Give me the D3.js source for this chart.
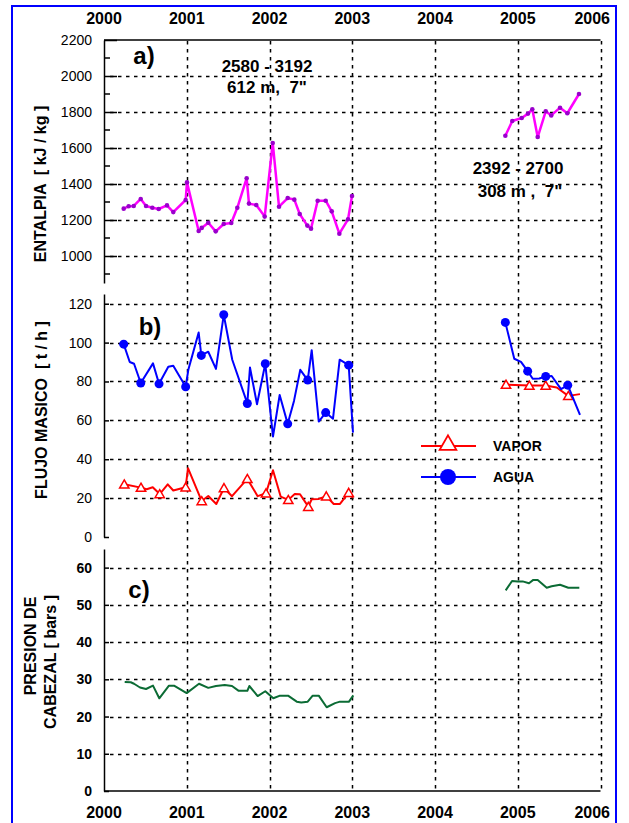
<!DOCTYPE html>
<html>
<head>
<meta charset="utf-8">
<script src="https://cdn.jsdelivr.net/npm/d3@7"></script>
<style>
  body { margin: 0; background: #fff; }
  svg { font-family: Arial, "Liberation Sans", sans-serif; }
  text { white-space: pre; }
</style>
</head>
<body>
<script>
// --- data (dates as decimal years) ---
const years = [2000, 2001, 2002, 2003, 2004, 2005, 2006];

// a) entalpia, kJ/kg
const entalpiaDates1 = [2000.238, 2000.298, 2000.359, 2000.444, 2000.508, 2000.584, 2000.661, 2000.761, 2000.837, 2000.987, 2001.003, 2001.144, 2001.181, 2001.260, 2001.350, 2001.447, 2001.538, 2001.611, 2001.724, 2001.752, 2001.840, 2001.942, 2002.039, 2002.115, 2002.220, 2002.300, 2002.365, 2002.457, 2002.502, 2002.582, 2002.679, 2002.752, 2002.844, 2002.949, 2002.997];
const entalpia1 = [1263, 1276, 1278, 1317, 1278, 1268, 1261, 1281, 1244, 1311, 1409, 1139, 1156, 1185, 1137, 1178, 1183, 1268, 1432, 1291, 1283, 1219, 1628, 1274, 1322, 1313, 1233, 1169, 1152, 1307, 1307, 1248, 1124, 1204, 1333];
const entalpiaDates2 = [2004.850, 2004.934, 2005.048, 2005.124, 2005.176, 2005.241, 2005.338, 2005.405, 2005.511, 2005.599, 2005.740];
const entalpia2 = [1668, 1750, 1767, 1791, 1815, 1661, 1804, 1781, 1824, 1793, 1900];

// b) flujo masico, t/h
const aguaDates1 = [2000.238, 2000.311, 2000.363, 2000.444, 2000.592, 2000.665, 2000.777, 2000.837, 2000.987, 2001.019, 2001.144, 2001.176, 2001.260, 2001.353, 2001.447, 2001.550, 2001.732, 2001.764, 2001.849, 2001.949, 2002.042, 2002.123, 2002.220, 2002.296, 2002.372, 2002.462, 2002.510, 2002.595, 2002.679, 2002.767, 2002.848, 2002.957, 2003.009];
const agua1 = [99.2, 90.0, 89.1, 79.2, 89.3, 78.8, 87.6, 88.1, 77.3, 86.0, 105.2, 93.4, 95.3, 86.5, 114.3, 91.2, 68.7, 87.2, 68.3, 89.1, 51.7, 73.1, 58.2, 70.0, 86.0, 80.7, 96.1, 59.4, 64.0, 60.8, 91.2, 88.4, 53.7];
const aguaMarks1 = [0, 3, 5, 8, 11, 14, 16, 19, 22, 25, 28, 31];
const aguaDates2 = [2004.850, 2004.958, 2005.039, 2005.120, 2005.181, 2005.260, 2005.338, 2005.410, 2005.523, 2005.604, 2005.752];
const agua2 = [110.4, 91.7, 90.1, 85.3, 81.4, 81.5, 82.6, 82.8, 76.1, 78.1, 62.8];
const aguaMarks2 = [0, 3, 6, 9];

const vaporDates1 = [2000.245, 2000.447, 2000.516, 2000.589, 2000.673, 2000.770, 2000.837, 2000.987, 2001.015, 2001.181, 2001.260, 2001.357, 2001.450, 2001.547, 2001.732, 2001.857, 2001.958, 2002.042, 2002.135, 2002.227, 2002.305, 2002.369, 2002.469, 2002.510, 2002.595, 2002.686, 2002.776, 2002.852, 2002.957, 2003.009];
const vapor1 = [27.1, 25.4, 24.6, 25.6, 22.1, 27.1, 23.9, 25.6, 35.4, 18.5, 21.1, 17.0, 25.2, 21.0, 29.9, 21.0, 22.5, 34.3, 20.8, 19.1, 22.1, 22.0, 15.6, 19.4, 19.6, 21.0, 17.0, 17.0, 22.8, 20.1];
const vaporMarks1 = [0, 1, 4, 7, 9, 12, 14, 16, 19, 22, 25, 28];
const vaporDates2 = [2004.858, 2005.140, 2005.338, 2005.471, 2005.611, 2005.752];
const vapor2 = [78.4, 77.9, 77.9, 76.9, 72.6, 73.5];
const vaporMarks2 = [0, 1, 2, 4];

// c) presion de cabezal, bars
const presionDates1 = [2000.250, 2000.323, 2000.363, 2000.435, 2000.508, 2000.592, 2000.668, 2000.785, 2000.846, 2000.999, 2001.148, 2001.260, 2001.353, 2001.459, 2001.547, 2001.628, 2001.732, 2001.756, 2001.857, 2001.949, 2002.046, 2002.127, 2002.224, 2002.329, 2002.384, 2002.462, 2002.522, 2002.595, 2002.691, 2002.792, 2002.852, 2002.961, 2003.013];
const presion1 = [29.3, 29.2, 28.8, 27.8, 27.4, 28.3, 24.9, 28.3, 28.3, 26.3, 28.8, 27.7, 28.2, 28.5, 28.2, 26.9, 26.9, 28.2, 25.5, 26.8, 24.9, 25.6, 25.6, 24.0, 23.8, 24.0, 25.6, 25.6, 22.5, 23.6, 24.0, 24.0, 25.7];
const presionDates2 = [2004.854, 2004.931, 2004.999, 2005.060, 2005.136, 2005.188, 2005.241, 2005.350, 2005.410, 2005.511, 2005.611, 2005.744];
const presion2 = [53.9, 56.4, 56.3, 56.3, 55.8, 56.7, 56.7, 54.6, 55.0, 55.4, 54.6, 54.6];

const ticksA = [1000, 1200, 1400, 1600, 1800, 2000, 2200];
const minorA = [900, 1100, 1300, 1500, 1700, 1900, 2100];
const ticksB = [0, 20, 40, 60, 80, 100, 120];
const ticksC = [0, 10, 20, 30, 40, 50, 60];

// --- layout ---
const W = 629, H = 823;
const svg = d3.select("body").append("svg")
  .attr("width", W)
  .attr("height", H);

// blue frame
svg.append("rect")
  .attr("x", 12).attr("y", 6)
  .attr("width", 604).attr("height", 830)
  .attr("fill", "none")
  .attr("stroke", "#0000ff")
  .attr("stroke-width", 2);

const x = d3.scaleLinear().domain([2000, 2006]).range([104, 600.5]);
const yA = d3.scaleLinear().domain([850, 2200]).range([283, 40]);
const yB = d3.scaleLinear().domain([0, 125]).range([537, 294]);
const yC = d3.scaleLinear().domain([0, 65]).range([791, 549]);

// dotted grid: short dashes built as path segments (dash 3, gap 5)
const px = v => Math.round(v) + 0.5;
function dashV(X, y0, y1) {
  let d = "";
  for (let y = y0; y < y1; y += 8) d += `M${X},${y}v3.5`;
  return d;
}
function dashH(Y, x0, x1) {
  let d = "";
  for (let xx = x0 + 6; xx < x1; xx += 8) d += `M${xx},${Y}h3.5`;
  return d;
}

// vertical grid
svg.append("g")
  .selectAll("path")
  .data(years.slice(1))
  .join("path")
  .attr("d", d => dashV(px(x(d)), 41, 790))
  .attr("stroke", "#000")
  .attr("stroke-width", 1.5)
  .attr("fill", "none");

// horizontal grids
function hgrid(y, vals) {
  svg.append("g")
    .selectAll("path")
    .data(vals)
    .join("path")
    .attr("d", d => dashH(px(y(d)), Math.round(x(2000)), x(2006)))
    .attr("stroke", "#000")
    .attr("stroke-width", 1.5)
    .attr("fill", "none");
}
hgrid(yA, ticksA.slice(0, -1));
hgrid(yB, ticksB.slice(1));
hgrid(yC, ticksC.slice(1));

// top and bottom x axes
svg.append("line")
  .attr("x1", x(2000)).attr("x2", x(2006))
  .attr("y1", 40).attr("y2", 40)
  .attr("stroke", "#000").attr("stroke-width", 1.5);
svg.append("line")
  .attr("x1", x(2000)).attr("x2", x(2006))
  .attr("y1", 791).attr("y2", 791)
  .attr("stroke", "#000").attr("stroke-width", 1.5);

function yearLabels(yPos) {
  svg.append("g")
    .selectAll("text")
    .data(years)
    .join("text")
    .attr("x", d => d === 2006 ? 610 : x(d))
    .attr("y", yPos)
    .attr("text-anchor", d => d === 2006 ? "end" : "middle")
    .attr("font-size", 16)
    .attr("font-weight", "bold")
    .text(d => d);
}
yearLabels(24);
yearLabels(818);

// y axes
function yAxis(scale, vals, tickLen, bold) {
  const g = svg.append("g")
    .attr("transform", `translate(${x(2000)},0)`)
    .call(d3.axisLeft(scale).tickValues(vals).tickSize(tickLen).tickSizeOuter(0).tickFormat(d3.format("d")));
  g.select(".domain").attr("stroke", "#000").attr("stroke-width", 1.5);
  g.selectAll(".tick line")
    .attr("x2", tickLen)
    .attr("stroke", "#000").attr("stroke-width", 1.5);
  g.selectAll(".tick text")
    .attr("x", -12)
    .attr("fill", "#000")
    .attr("font-size", 14)
    .attr("font-weight", bold ? "bold" : "normal")
    .attr("font-family", "Arial, 'Liberation Sans', sans-serif");
  return g;
}
yAxis(yA, ticksA, 13, false);
yAxis(yB, ticksB, 5, false);
yAxis(yC, ticksC, 5, true);

// minor ticks panel a
svg.append("g")
  .selectAll("line")
  .data(minorA)
  .join("line")
  .attr("x1", x(2000)).attr("x2", x(2000) + 6)
  .attr("y1", d => yA(d)).attr("y2", d => yA(d))
  .attr("stroke", "#000").attr("stroke-width", 1.5);

// axis titles
function vTitle(cx, cy, txt) {
  svg.append("text")
    .attr("transform", `translate(${cx},${cy}) rotate(-90)`)
    .attr("text-anchor", "middle")
    .attr("font-size", 16)
    .attr("font-weight", "bold")
    .text(txt);
}
vTitle(46, 184, "ENTALPIA  [ kJ / kg ]");
vTitle(47, 410, "FLUJO MASICO  [ t / h ]");
vTitle(36, 646, "PRESION DE");
vTitle(56, 662, "CABEZAL [ bars ]");

// series drawing
function series(dates, vals, y, color, width) {
  const pts = dates.map((d, i) => [x(d), y(vals[i])]);
  svg.append("path")
    .attr("d", d3.line()(pts))
    .attr("fill", "none")
    .attr("stroke", color)
    .attr("stroke-width", width)
    .attr("stroke-linejoin", "round");
  return pts;
}

// a)
[[entalpiaDates1, entalpia1], [entalpiaDates2, entalpia2]].forEach(([ds, vs]) => {
  const pts = series(ds, vs, yA, "#ff00ff", 2.5);
  svg.append("g")
    .selectAll("circle")
    .data(pts)
    .join("circle")
    .attr("cx", d => d[0]).attr("cy", d => d[1])
    .attr("r", 2.3)
    .attr("fill", "#9a00cc");
});

// b)
const tri = d3.symbol().type(d3.symbolTriangle);
[[vaporDates1, vapor1, vaporMarks1], [vaporDates2, vapor2, vaporMarks2]].forEach(([ds, vs, ms]) => {
  const pts = series(ds, vs, yB, "#ff0000", 2);
  svg.append("g")
    .selectAll("path")
    .data(ms.map(i => pts[i]))
    .join("path")
    .attr("d", tri.size(38)())
    .attr("transform", d => `translate(${d[0]},${d[1] + 1})`)
    .attr("fill", "#fff")
    .attr("stroke", "#ff0000")
    .attr("stroke-width", 1.5);
});
[[aguaDates1, agua1, aguaMarks1], [aguaDates2, agua2, aguaMarks2]].forEach(([ds, vs, ms]) => {
  const pts = series(ds, vs, yB, "#0000ff", 2);
  svg.append("g")
    .selectAll("circle")
    .data(ms.map(i => pts[i]))
    .join("circle")
    .attr("cx", d => d[0]).attr("cy", d => d[1])
    .attr("r", 4.5)
    .attr("fill", "#0000ff");
});

// c)
series(presionDates1, presion1, yC, "#0b6b34", 2);
series(presionDates2, presion2, yC, "#0b6b34", 2);

// panel labels and notes
function label(tx, ty, txt, size) {
  svg.append("text")
    .attr("x", tx).attr("y", ty)
    .attr("text-anchor", "middle")
    .attr("font-size", size)
    .attr("font-weight", "bold")
    .text(txt);
}
label(144, 64, "a)", 24);
label(150, 335, "b)", 24);
label(139, 598, "c)", 24);
label(267, 72, "2580 - 3192", 17);
label(267, 93, "612 m,  7\"", 17);
label(518, 174, "2392 - 2700", 17);
label(520, 197, "308 m ,  7\"", 17);

// legend
const leg = svg.append("g");
leg.append("line")
  .attr("x1", 421).attr("x2", 476).attr("y1", 446).attr("y2", 446)
  .attr("stroke", "#ff0000").attr("stroke-width", 2);
leg.append("path")
  .attr("d", tri.size(120)())
  .attr("transform", "translate(448,445)")
  .attr("fill", "#fff")
  .attr("stroke", "#ff0000")
  .attr("stroke-width", 1.8);
leg.append("line")
  .attr("x1", 421).attr("x2", 476).attr("y1", 477).attr("y2", 477)
  .attr("stroke", "#0000ff").attr("stroke-width", 2);
leg.append("circle")
  .attr("cx", 448).attr("cy", 477).attr("r", 8)
  .attr("fill", "#0000ff");
leg.append("text").attr("x", 493).attr("y", 451)
  .attr("font-size", 14).attr("font-weight", "bold").text("VAPOR");
leg.append("text").attr("x", 493).attr("y", 482)
  .attr("font-size", 14).attr("font-weight", "bold").text("AGUA");
</script>
</body>
</html>
